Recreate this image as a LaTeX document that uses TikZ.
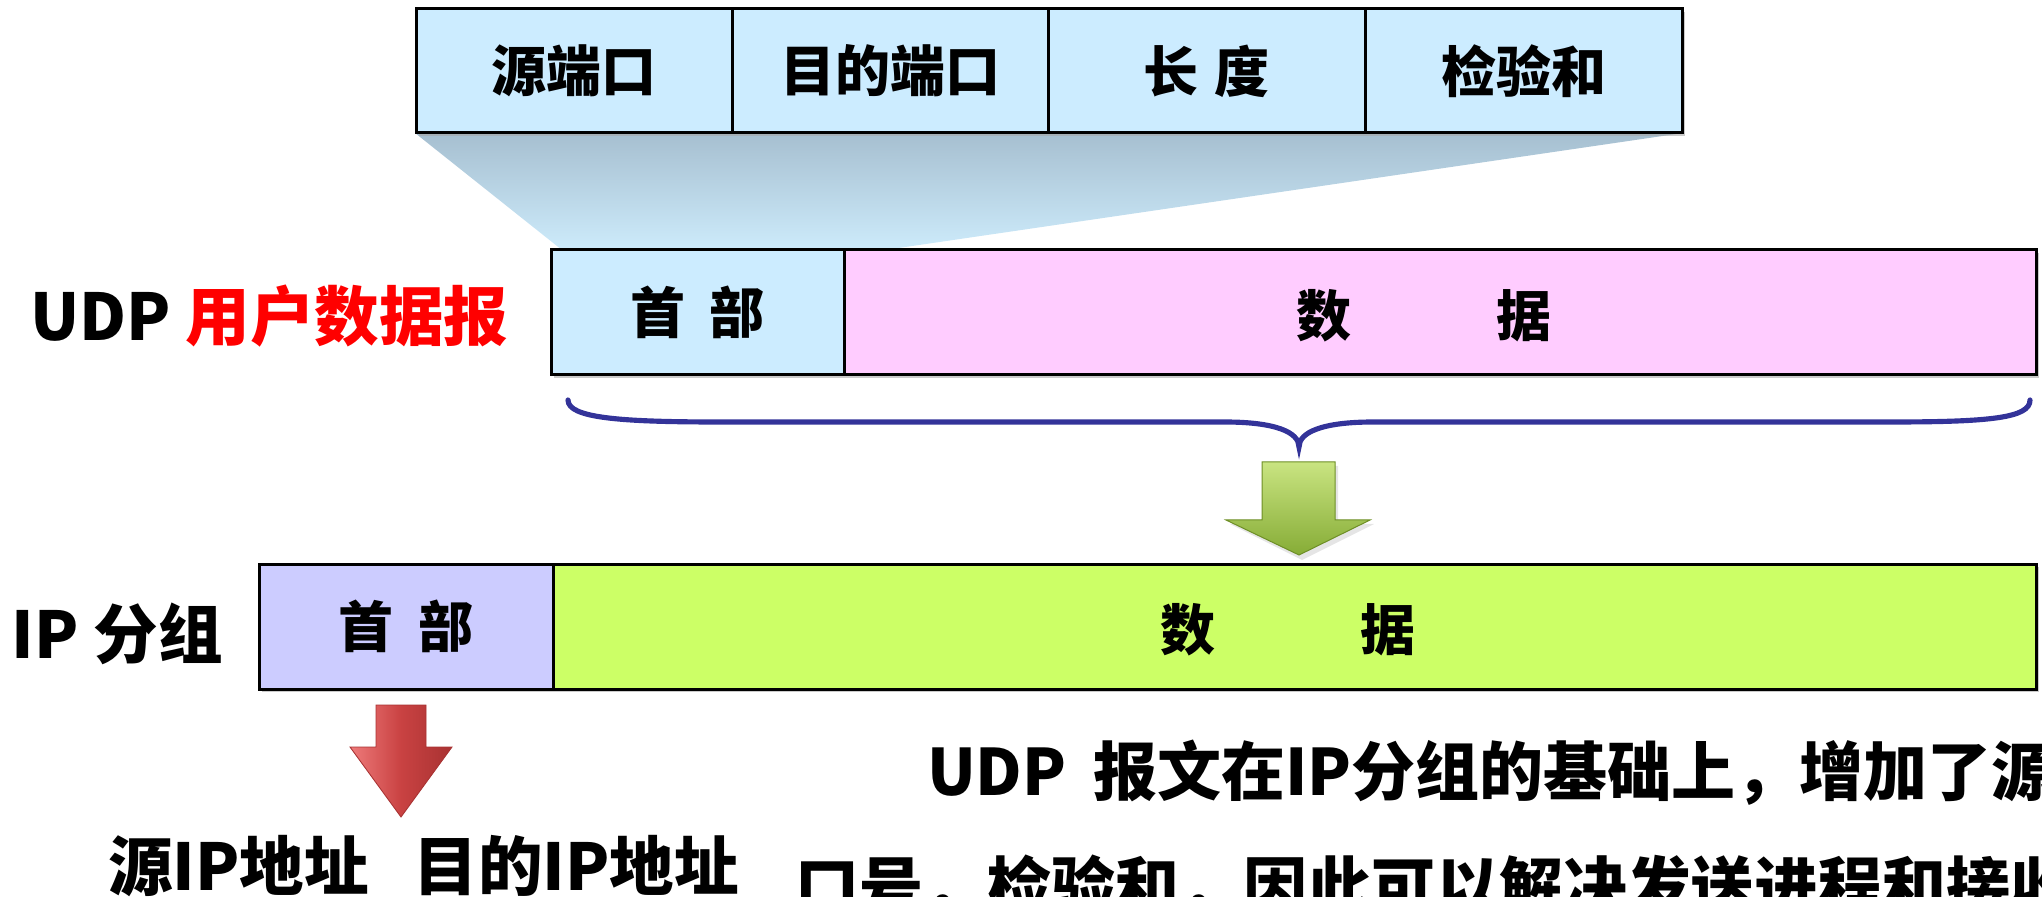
\documentclass[tikz,border=0pt]{standalone}
\usepackage{fontspec}
\setmainfont{Noto Sans CJK SC}
\usetikzlibrary{shadows}
\definecolor{hdrblue}{HTML}{CCECFF}
\definecolor{datpink}{HTML}{FFCCFF}
\definecolor{iplav}{HTML}{CCCCFF}
\definecolor{iplime}{HTML}{CCFF66}
\definecolor{bracecol}{HTML}{333399}
\definecolor{tztop}{HTML}{A6BFD0}
\definecolor{tzbot}{HTML}{CDEBFB}
\definecolor{redtxt}{HTML}{FF0000}
\definecolor{gtop}{HTML}{C9E481}
\definecolor{gbot}{HTML}{86AC36}
\definecolor{gedge}{HTML}{6E8F26}
\definecolor{rleft}{HTML}{EE7A7A}
\definecolor{rmid}{HTML}{C94242}
\definecolor{rright}{HTML}{A83232}
\newcommand\myu{0.35}
\begin{document}
\begin{tikzpicture}[x=0.35pt,y=-0.35pt,
  boxstyle/.style={draw=black,line width=1.05pt,inner sep=0pt,outer sep=0pt,
    font=\fontsize{19.25pt}{21pt}\selectfont\bfseries,
    drop shadow={shadow xshift=0.9pt,shadow yshift=-0.9pt,fill=gray!70,opacity=0.6}},
  txtonly/.style={inner sep=0pt,outer sep=0pt,font=\fontsize{19.25pt}{21pt}\selectfont\bfseries},
  bigtxt/.style={inner sep=0pt,outer sep=0pt,font=\fontsize{22.6pt}{24pt}\selectfont\bfseries},
  plaintxt/.style={inner sep=0pt,outer sep=0pt,font=\fontsize{22.4pt}{24pt}\selectfont\bfseries}]
\path[use as bounding box] (0,0) rectangle (2042,897);
\begin{scope}
\clip (0,0) rectangle (2042,897);
% shaded trapezoid
\shade[top color=tztop,bottom color=tzbot] (415,133) -- (1683,133) -- (885,250) -- (562,250) -- cycle;
% top fields
\node[boxstyle,fill=hdrblue,minimum width=316*\myu pt,minimum height=124*\myu pt] (f1) at (574,71) {源端口};
\node[boxstyle,fill=hdrblue,minimum width=316*\myu pt,minimum height=124*\myu pt] (f2) at (890,71) {目的端口};
\node[boxstyle,fill=hdrblue,minimum width=317*\myu pt,minimum height=124*\myu pt] (f3) at (1206.5,71) {长\hspace{0.3em}度};
\node[boxstyle,fill=hdrblue,minimum width=317*\myu pt,minimum height=124*\myu pt] (f4) at (1523.5,71) {检验和};
% UDP datagram
\node[boxstyle,fill=hdrblue,minimum width=293*\myu pt,minimum height=125*\myu pt] (uh) at (697.5,312.5) {首\hspace{0.45em}部};
\node[boxstyle,fill=datpink,minimum width=1192*\myu pt,minimum height=125*\myu pt] (ud) at (1440,312.5) {};
\node[txtonly] (udt) at (1424,316) {数\hspace{2.65em}据};
\node[bigtxt,anchor=west] (udplbl) at (30,316) {UDP \textcolor{redtxt}{用户数据报}};
% brace
\draw[bracecol,line width=1.8pt,line cap=round]
  (568,400) .. controls (568,418) and (620,422) .. (720,422) -- (1225,422)
  .. controls (1275,422) and (1299,432) .. (1299,447)
  .. controls (1299,432) and (1323,422) .. (1373,422) -- (1890,422)
  .. controls (1990,422) and (2030,418) .. (2030,400);
% green arrow
\fill[gray!40,opacity=0.5] (1265,466) -- (1338,466) -- (1338,524) -- (1374,524) -- (1302,560) -- (1230,524) -- (1265,524) -- cycle;
\shade[top color=gtop,bottom color=gbot,draw=gedge,line width=0.35pt]
  (1262,462) -- (1335,462) -- (1335,520) -- (1370,520) -- (1299,555) -- (1226,520) -- (1262,520) -- cycle;
% IP packet
\node[boxstyle,fill=iplav,minimum width=294*\myu pt,minimum height=125*\myu pt] (ih) at (406,626.5) {首\hspace{0.45em}部};
\node[boxstyle,fill=iplime,minimum width=1483*\myu pt,minimum height=125*\myu pt] (id) at (1294.5,626.5) {};
\node[txtonly] (idt) at (1288,630) {数\hspace{2.65em}据};
\node[bigtxt,anchor=west] (iplbl) at (12,634) {IP 分组};
% red arrow
\shade[left color=rleft,right color=rright,middle color=rmid,draw=rright,line width=0.3pt]
  (376,705) -- (426,705) -- (426,747) -- (452,747) -- (401,817) -- (350,747) -- (376,747) -- cycle;
% texts
\node[bigtxt,anchor=west] (addr) at (108,866) {源IP地址\hspace{0.7em}目的IP地址};
\node[plaintxt,anchor=west] (line1) at (927,773) {UDP\hspace{0.42em}报文在IP分组的基础上，增加了源};
\node[plaintxt,anchor=west] (line2) at (795,888) {口号，检验和，因此可以解决发送进程和接收};
\end{scope}
\end{tikzpicture}
\end{document}
